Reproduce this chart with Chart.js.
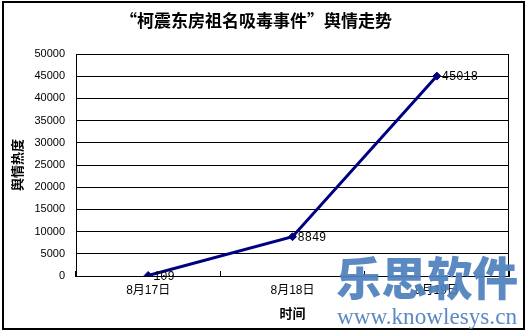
<!DOCTYPE html>
<html><head><meta charset="utf-8">
<script src="https://cdn.jsdelivr.net/npm/chart.js@4"></script>
<style>html,body{margin:0;padding:0;background:#fff}#wrap{width:526px;height:331px;position:relative}</style>
</head><body><div id="wrap"><canvas id="c" width="526" height="331"></canvas></div>
<script>
const categories = ['8月17日', '8月18日', '8月19日'];
const heatValues = [109, 8849, 45018];
const yMin = 0, yMax = 50000, yStep = 5000;
const chartTitle = '“柯震东房祖名吸毒事件”舆情走势';
const xAxisTitle = '时间';
const yAxisTitle = '舆情热度';
const watermarkMain = '乐思软件';
const watermarkUrl = 'www.knowlesys.cn';

const CJK = '"Liberation Sans","Noto Sans CJK SC",sans-serif';
const NAVY = '#000080';

const decor = {
  id: 'decor',
  afterDatasetsDraw(chart) {
    const ctx = chart.ctx, a = chart.chartArea;
    ctx.save();
    ctx.strokeStyle = '#000'; ctx.lineWidth = 1;
    ctx.beginPath();
    ctx.moveTo(Math.round(a.right) - 0.5, Math.round(a.top) + 0.5);
    ctx.lineTo(Math.round(a.right) - 0.5, Math.round(a.bottom) + 0.5);
    ctx.stroke();
    const meta = chart.getDatasetMeta(0);
    ctx.font = '12px "Liberation Mono", monospace';
    ctx.fillStyle = '#000';
    ctx.textAlign = 'left'; ctx.textBaseline = 'middle';
    meta.data.forEach((pt, i) => ctx.fillText(String(heatValues[i]), pt.x + 5, pt.y + 1));
    ctx.restore();
  },
  afterDraw(chart) {
    const ctx = chart.ctx;
    ctx.save();
    ctx.strokeStyle = '#000'; ctx.lineWidth = 2;
    ctx.strokeRect(3, 2, 521, 327);
    ctx.fillStyle = 'rgba(79,129,189,0.93)';
    ctx.textAlign = 'left';
    ctx.textBaseline = 'middle';
    ctx.font = '900 46px "Noto Sans CJK SC"';
    ctx.fillText(watermarkMain, 336, 278, 182);
    ctx.textBaseline = 'alphabetic';
    ctx.font = '24px "Liberation Serif", serif';
    ctx.fillText(watermarkUrl, 337, 324, 180);
    ctx.restore();
  }
};

new Chart(document.getElementById('c'), {
  type: 'line',
  data: {
    labels: categories,
    datasets: [{
      data: heatValues,
      borderColor: NAVY,
      backgroundColor: NAVY,
      borderWidth: 3,
      tension: 0,
      pointStyle: 'rectRot',
      pointRadius: 4,
      pointBackgroundColor: NAVY,
      pointBorderColor: NAVY,
      pointBorderWidth: 1,
      fill: false
    }]
  },
  options: {
    responsive: false,
    animation: false,
    devicePixelRatio: 1,
    layout: { padding: { left: 3, right: 17, top: 0, bottom: 3 } },
    plugins: {
      legend: { display: false },
      tooltip: { enabled: false },
      title: {
        display: true,
        text: chartTitle,
        color: '#000',
        font: { family: '"Noto Sans CJK SC", sans-serif', size: 17, weight: 'bold', lineHeight: 1.2 },
        padding: { top: 10, bottom: 23.6 }
      }
    },
    scales: {
      x: {
        type: 'category',
        offset: true,
        grid: { offset: true, drawOnChartArea: false, drawTicks: true, tickLength: -5, color: '#000', lineWidth: 1 },
        border: { display: true, color: '#000', width: 1 },
        ticks: { color: '#000', font: { family: CJK, size: 12 }, padding: 12.8, maxRotation: 0, autoSkip: false },
        title: { display: true, text: xAxisTitle, color: '#000', font: { family: '"Noto Sans CJK SC", sans-serif', size: 13, weight: 'bold', lineHeight: 1.2 }, padding: { top: 0, bottom: 7 } },
        afterFit(s) { s.height = 52; }
      },
      y: {
        min: yMin, max: yMax,
        grid: { color: '#000', lineWidth: 1, drawTicks: false },
        border: { display: true, color: '#000', width: 1 },
        ticks: { stepSize: yStep, color: '#000', font: { family: '"Liberation Sans", sans-serif', size: 11 }, padding: 11, callback: v => String(v) },
        title: { display: true, text: yAxisTitle, color: '#000', font: { family: '"Noto Sans CJK SC", sans-serif', size: 13, weight: 'bold', lineHeight: 1.2 }, padding: { top: 6, bottom: 0 } },
        afterFit(s) { s.width = 73; }
      }
    }
  },
  plugins: [decor]
});
</script></body></html>
